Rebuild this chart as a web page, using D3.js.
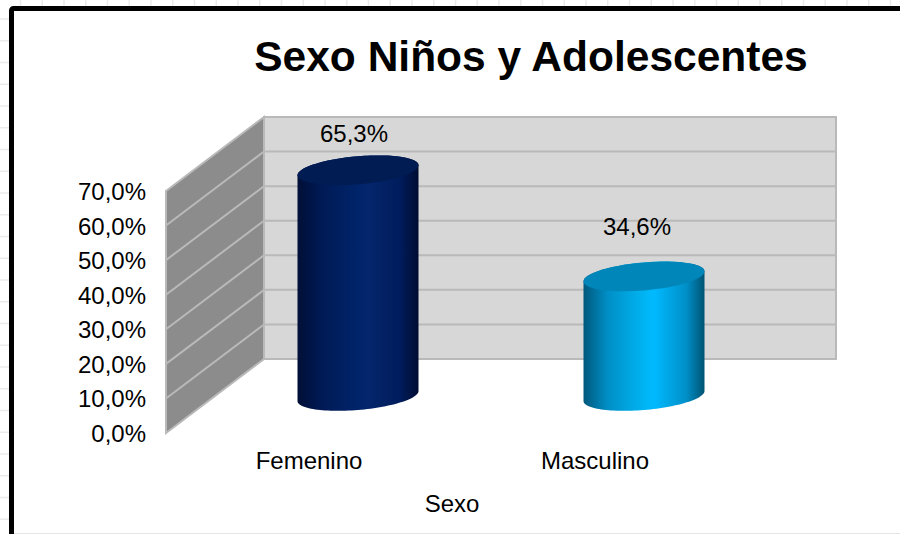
<!DOCTYPE html>
<html>
<head>
<meta charset="utf-8">
<script src="https://cdn.jsdelivr.net/npm/d3@7/dist/d3.min.js"></script>
<style>
html,body{margin:0;padding:0;background:#fff}
svg{display:block}
text{font-family:"Liberation Sans",Arial,sans-serif;fill:#000}
</style>
</head>
<body>
<script>
const chartTitle = "Sexo Niños y Adolescentes";
const axisTitle = "Sexo";
const categories = ["Femenino", "Masculino"];
const values = [65.3, 34.6];
const valueLabels = ["65,3%", "34,6%"];
const tickValues = [0, 10, 20, 30, 40, 50, 60, 70];
const tickLabels = ["0,0%", "10,0%", "20,0%", "30,0%", "40,0%", "50,0%", "60,0%", "70,0%"];

const W = 900, H = 534;
const depth = {dx: 98, dy: -74};
const x = d3.scaleBand().domain(categories).range([166, 738]);
const y = d3.scaleLinear().domain([0, 70]).range([433, 191]);
const px = v => v + depth.dx;
const py = v => v + depth.dy;

const svg = d3.select("body").append("svg").attr("width", W).attr("height", H);

// Worksheet cells behind the chart area
const sheet = svg.append("g").attr("stroke", "#ebebeb").attr("stroke-width", 1.5);
sheet.selectAll("line.v").data(d3.range(20.5, W, 21.75)).join("line")
  .attr("x1", d => d).attr("x2", d => d).attr("y1", 0).attr("y2", H);
sheet.selectAll("line.h").data(d3.range(19, H, 21.75)).join("line")
  .attr("y1", d => d).attr("y2", d => d).attr("x1", 0).attr("x2", W);

// Chart frame, open past the right edge of the window
svg.append("rect").attr("x", 11.5).attr("y", 8.5).attr("width", W + 20).attr("height", H + 20)
  .attr("rx", 2).attr("fill", "#fff").attr("stroke", "#000").attr("stroke-width", 5);
svg.append("line").attr("x1", 14).attr("x2", W).attr("y1", 533.5).attr("y2", 533.5)
  .attr("stroke", "#e4e4e4");

// Back wall and side wall
const wallStroke = "#b9b9b9";
svg.append("rect").attr("x", px(166)).attr("y", py(y(70))).attr("width", 572).attr("height", y(0) - y(70))
  .attr("fill", "#d7d7d7").attr("stroke", wallStroke).attr("stroke-width", 2);
svg.append("path")
  .attr("d", d3.line()([[166, y(0)], [166, y(70)], [px(166), py(y(70))], [px(166), py(y(0))]]) + "Z")
  .attr("fill", "#8c8c8c").attr("stroke", wallStroke).attr("stroke-width", 2);

const grid = svg.append("g").attr("stroke", wallStroke).attr("stroke-width", 2).attr("fill", "none");
grid.selectAll("path").data(tickValues.slice(1, -1)).join("path")
  .attr("d", d => d3.line()([[166, y(d)], [px(166), py(y(d))], [px(738), py(y(d))]]));

// Horizontal shading across each cylinder
const palettes = [
  {id: "fem", top: "#001c52", stops: ["#000f36", "#001a55", "#00246a", "#04266c", "#001c5c", "#000c30"]},
  {id: "mas", top: "#0086b8", stops: ["#00587c", "#008fc6", "#00b4f2", "#00baff", "#008fc8", "#005372"]}
];
const offsets = [0, 0.2, 0.5, 0.58, 0.85, 1];
const defs = svg.append("defs");
palettes.forEach(p => {
  const g = defs.append("linearGradient").attr("id", p.id);
  p.stops.forEach((c, i) => g.append("stop").attr("offset", offsets[i]).attr("stop-color", c));
});

// A cylinder's rim is a sheared ellipse seen from the chart's 3D viewpoint
const rim = {rx: 60.5, shear: -5, ry: 14};
const rimPoint = (cx, cy, t) => [
  cx + rim.rx * Math.cos(t),
  cy + rim.shear * Math.cos(t) - rim.ry * Math.sin(t)
];
const arcPoints = (cx, cy, from, to) =>
  d3.range(0, 61).map(i => rimPoint(cx, cy, from + (to - from) * i / 60));

// Cylinders stand halfway between the front plane and the back wall
const baseY = y(0) + depth.dy / 2;
const bars = svg.append("g").selectAll("g").data(categories).join("g");

bars.append("path")
  .attr("fill", (d, i) => `url(#${palettes[i].id})`)
  .attr("d", (d, i) => {
    const cx = x(d) + x.bandwidth() / 2 + depth.dx / 2;
    const h = y(0) - y(values[i]);
    const lower = arcPoints(cx, baseY, Math.PI, 2 * Math.PI);
    const upper = arcPoints(cx, baseY - h, 0, Math.PI);
    return d3.line()(lower.concat(upper)) + "Z";
  });

bars.append("path")
  .attr("fill", (d, i) => palettes[i].top)
  .attr("d", (d, i) => {
    const cx = x(d) + x.bandwidth() / 2 + depth.dx / 2;
    const h = y(0) - y(values[i]);
    return d3.line()(arcPoints(cx, baseY - h, 0, 2 * Math.PI)) + "Z";
  });

// Value labels sit where the chart's layout placed them
const labelPos = [{dx: 45, dy: -65}, {dx: 42, dy: -78}];
svg.append("g").attr("font-size", 24).attr("text-anchor", "middle")
  .selectAll("text").data(categories).join("text")
  .attr("x", (d, i) => x(d) + x.bandwidth() / 2 + labelPos[i].dx)
  .attr("y", (d, i) => y(values[i]) + labelPos[i].dy)
  .text((d, i) => valueLabels[i]);

// Value axis labels
svg.append("g").attr("font-size", 24).attr("text-anchor", "end")
  .selectAll("text").data(tickValues).join("text")
  .attr("x", 146)
  .attr("y", d => y(d) + 9)
  .text((d, i) => tickLabels[i]);

// Category labels
svg.append("g").attr("font-size", 24).attr("text-anchor", "middle")
  .selectAll("text").data(categories).join("text")
  .attr("x", d => x(d) + x.bandwidth() / 2)
  .attr("y", 469)
  .text(d => d);

svg.append("text").attr("x", 452).attr("y", 512).attr("font-size", 24)
  .attr("text-anchor", "middle").text(axisTitle);

svg.append("text").attr("x", 531).attr("y", 71).attr("font-size", 42.5)
  .attr("font-weight", "bold").attr("text-anchor", "middle").text(chartTitle);
</script>
</body>
</html>
